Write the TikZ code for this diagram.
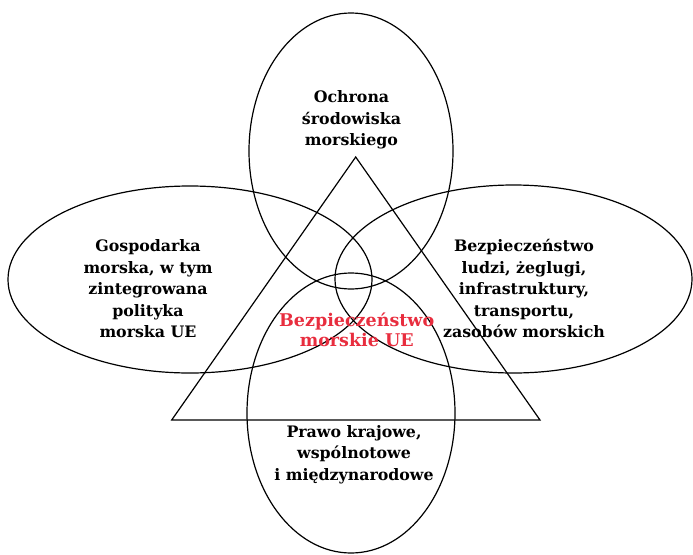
\documentclass[tikz,border=0pt]{standalone}
\usepackage{fontspec}
\setmainfont{DejaVu Serif}
\usetikzlibrary{positioning}

\definecolor{czerwony}{RGB}{232,45,62}

\tikzset{
    obszar/.style={draw=black, line width=1.2pt},
    opis/.style={align=center, font=\bfseries\fontsize{15.8}{21.5}\selectfont, inner sep=0pt}
}

\begin{document}
\begin{tikzpicture}[x=1pt,y=-1pt]
    \useasboundingbox (0,0) rectangle (693,554);

    % Elipsy
    \draw[obszar] (351,151) ellipse (102 and 138);
    \draw[obszar] (190,279.5) ellipse (182 and 93.5);
    \draw[obszar] (513.5,279) ellipse (178.5 and 94);
    \draw[obszar] (351,413) ellipse (104 and 140);

    % Trojkat
    \draw[obszar, line join=miter] (355.7,157) -- (171.7,420) -- (540,420) -- cycle;

    % Opisy
    \node[opis] (ochrona) at (351.5,120) {Ochrona\\środowiska\\morskiego};
    \node[opis] (gospodarka) at (148,289) {Gospodarka\\morska, w tym\\zintegrowana\\polityka\\morska UE};
    \node[opis] (ludzie) at (524,288.5) {Bezpieczeństwo\\ludzi, żeglugi,\\infrastruktury,\\transportu,\\zasobów morskich};
    \node[opis] (prawo) at (354,454.5) {Prawo krajowe,\\wspólnotowe\\i międzynarodowe};
    \node[opis, text=czerwony, font=\bfseries\fontsize{17.5}{20}\selectfont] (morskie) at (356.7,330) {Bezpieczeństwo\\morskie UE};
\end{tikzpicture}
\end{document}
